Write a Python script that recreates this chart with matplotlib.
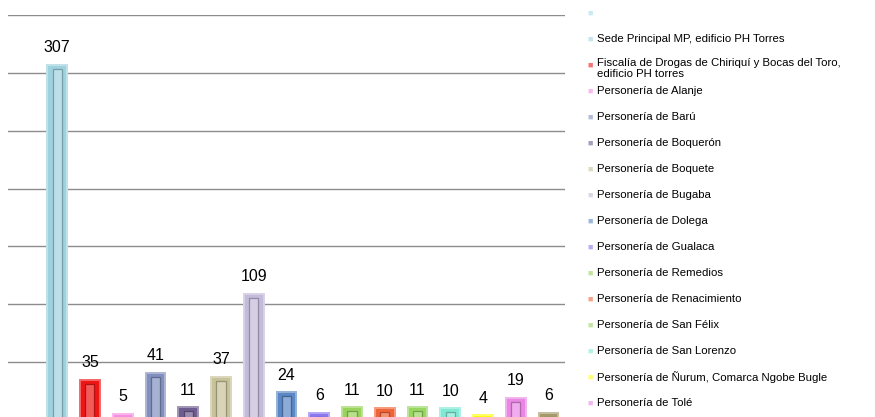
import numpy as np
import matplotlib.pyplot as plt
from matplotlib.colors import to_rgb

plt.rcParams['font.family'] = ['Liberation Sans', 'DejaVu Sans']

# datos
labels = ['',
          'Sede Principal MP, edificio PH Torres',
          'Fiscalía de Drogas de Chiriquí y Bocas del Toro,\nedificio PH torres',
          'Personería de Alanje',
          'Personería de Barú',
          'Personería de Boquerón',
          'Personería de Boquete',
          'Personería de Bugaba',
          'Personería de Dolega',
          'Personería de Gualaca',
          'Personería de Remedios',
          'Personería de Renacimiento',
          'Personería de San Félix',
          'Personería de San Lorenzo',
          'Personería de Ñurum, Comarca Ngobe Bugle',
          'Personería de Tolé',
          None]  # la última entrada queda fuera de la imagen
values = [np.nan, 307, 35, 5, 41, 11, 37, 109, 24, 6, 11, 10, 11, 10, 4, 19, 6]
colors = ['#a6dbe6', '#9fd2df', '#ee1515', '#f58de0', '#8190bd', '#6e5c90',
          '#c8c29a', '#c4bad9', '#5b87c4', '#8a76ee', '#98d35c', '#ef6539',
          '#97d760', '#80e9d5', '#ffff10', '#e988e4', '#a59a69']


def mix(c, w):
    r, g, b = to_rgb(c)
    return (r + (1 - r) * w, g + (1 - g) * w, b + (1 - b) * w)


def shade(c, w):
    r, g, b = to_rgb(c)
    return (r * (1 - w), g * (1 - w), b * (1 - w))


W, H = 875, 417
fig = plt.figure(figsize=(W / 100, H / 100), dpi=100)
ax = fig.add_axes([8 / W, (H - 420) / H, (565 - 8) / W, (420 - 15) / H])

x = np.arange(len(values))
vals = np.nan_to_num(values)
ax.bar(x, vals, width=0.6, color=colors, edgecolor=[mix(c, 0.35) for c in colors],
       linewidth=1.4, zorder=3)
# efecto biselado
bev = 3.5
ax.bar(x, np.maximum(vals - bev, 0), width=0.28, color=[mix(c, 0.3) for c in colors],
       edgecolor=[shade(c, 0.25) for c in colors], linewidth=0.9, zorder=4)

for xi, v in zip(x, values):
    if not np.isnan(v):
        ax.annotate(str(int(v)), (xi, v), xytext=(0, 7), textcoords='offset points',
                    ha='center', va='bottom', fontsize=11.5)

ax.set_xlim(-0.5, len(values) - 0.5)
ax.set_ylim(0, 350)
ax.set_yticks(np.arange(0, 351, 50))
ax.yaxis.grid(True, color='#8c8c8c', linewidth=1)
ax.set_axisbelow(True)
ax.tick_params(left=False, bottom=False, labelleft=False, labelbottom=False)
for s in ax.spines.values():
    s.set_visible(False)

# leyenda
y0, dy = 13, 26
for i, (lab, col) in enumerate(zip(labels, colors)):
    if lab is None:
        continue
    yy = 1 - (y0 + i * dy) / H
    fig.text(587 / W, yy, '■', color=mix(col, 0.4), fontsize=6.5, ha='left', va='center')
    if '\n' in lab:
        fig.text(597 / W, yy + 7 / H, lab, fontsize=8.2, ha='left', va='top', linespacing=1.12)
    else:
        fig.text(597 / W, yy, lab, fontsize=8.2, ha='left', va='center')

fig.savefig('out.png', dpi=100)
